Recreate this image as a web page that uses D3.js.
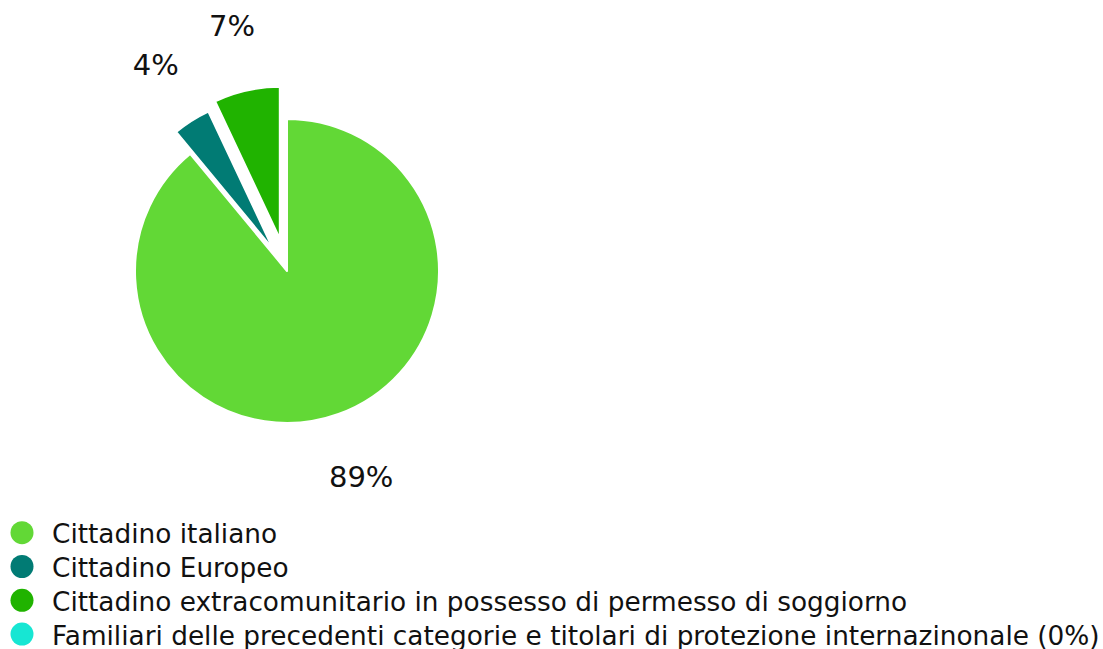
<!DOCTYPE html>
<html>
<head>
<meta charset="utf-8">
<script src="https://cdn.jsdelivr.net/npm/d3@7"></script>
<style>
  body { margin: 0; background: #fff; }
  svg { display: block; }
  text { font-family: 'DejaVu Sans', sans-serif; fill: #111; }
</style>
</head>
<body>
<div id="container"></div>
<script>
const categories = [
  'Cittadino italiano',
  'Cittadino Europeo',
  'Cittadino extracomunitario in possesso di permesso di soggiorno',
  'Familiari delle precedenti categorie e titolari di protezione internazinonale'
];
const values = [89, 4, 7, 0];
const colors = ['#62d836', '#017b74', '#20b300', '#17e6d3'];
// how far each slice is pulled out of the pie
const pulls = [0, 26, 33, 0];

const width = 1103;
const height = 649;
const cx = 287, cy = 271;
const radius = 152;
const labelRadius = 219;

const svg = d3.select('#container').append('svg')
  .attr('width', width)
  .attr('height', height);

const pie = d3.pie().sort(null).value((d) => d);
const arc = d3.arc().innerRadius(0).outerRadius(radius);
const arcs = pie(values);

const offset = (d, r) => {
  const a = (d.startAngle + d.endAngle) / 2;
  return [Math.sin(a) * r, -Math.cos(a) * r];
};

const g = svg.append('g').attr('transform', `translate(${cx}, ${cy})`);

const slices = g.selectAll('g.slice')
  .data(arcs).enter()
  .append('g')
  .attr('class', 'slice')
  .attr('transform', (d, i) => {
    const [x, y] = offset(d, pulls[i]);
    return `translate(${x}, ${y})`;
  });

slices.filter((d) => d.value > 0)
  .append('path')
  .attr('d', arc)
  .attr('fill', (d, i) => colors[d.index])
  .attr('stroke', '#fff')
  .attr('stroke-width', 2)
  .attr('stroke-linejoin', 'round');

slices.filter((d) => d.value > 0)
  .append('text')
  .attr('x', (d) => offset(d, labelRadius)[0])
  .attr('y', (d) => offset(d, labelRadius)[1])
  .attr('dy', '0.36em')
  .attr('text-anchor', 'middle')
  .style('font-size', '29px')
  .text((d) => `${d.value}%`);

// legend
const legend = svg.append('g').attr('transform', 'translate(0, 532.7)');
const rows = legend.selectAll('g')
  .data(categories).enter()
  .append('g')
  .attr('transform', (d, i) => `translate(0, ${i * 33.8})`);

rows.append('circle')
  .attr('cx', 22)
  .attr('cy', 0)
  .attr('r', 11.5)
  .attr('fill', (d, i) => colors[i]);

const labels = rows.append('text')
  .attr('x', 52)
  .attr('y', 0)
  .attr('dy', '0.4em')
  .style('font-size', '24px')
  .text((d, i) => values[i] === 0 ? `${d} (0%)` : d);

// fit the longest legend row to end near the right edge
let widest = 0;
labels.each(function () { widest = Math.max(widest, this.getComputedTextLength()); });
const fs = 24 * (1100 - 52) / widest;
labels.style('font-size', `${fs}px`);
</script>
</body>
</html>
